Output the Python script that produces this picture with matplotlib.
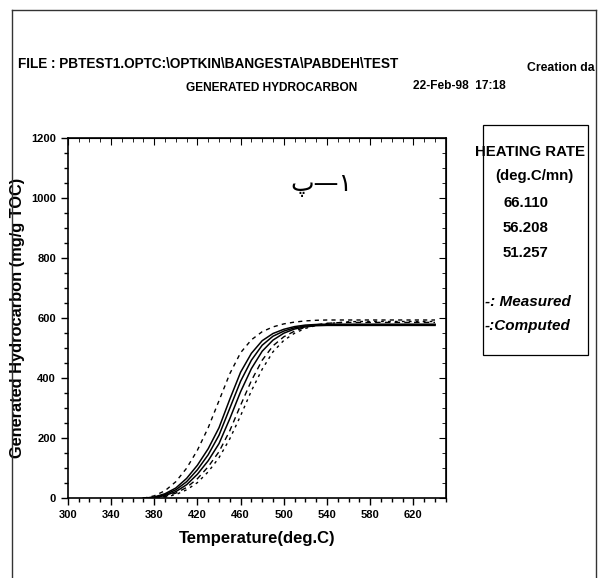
import matplotlib

matplotlib.use("Agg")
import matplotlib.pyplot as plt
from matplotlib.ticker import MultipleLocator

plt.rcParams["font.family"] = ["Liberation Sans", "DejaVu Sans"]

# temperature grid (deg.C)
temps = [370, 380, 390, 400, 410, 420, 430, 440, 450, 460, 470, 480, 490, 500,
         510, 520, 530, 540, 550, 560, 570, 580, 590, 600, 610, 620, 630, 640]

# computed curves (solid)
computed_a = [0, 3, 12, 28, 55, 95, 145, 210, 300, 390, 460, 510, 540, 557,
              568, 574, 577, 578, 578, 578, 578, 578, 578, 578, 578, 578, 578, 578]
computed_b = [0, 2, 9, 22, 45, 80, 125, 182, 265, 355, 432, 490, 527, 550,
              564, 571, 575, 576, 576, 576, 576, 576, 576, 576, 576, 576, 576, 576]
computed_c = [0, 4, 15, 34, 66, 110, 165, 235, 330, 420, 483, 525, 549, 563,
              572, 577, 579, 580, 580, 580, 580, 580, 580, 580, 580, 580, 580, 580]

# measured curves (dashed / dotted)
measured_a = [0, 8, 25, 55, 100, 160, 235, 325, 415, 485, 528, 555, 571, 581,
              587, 591, 593, 594, 594, 594, 594, 594, 594, 594, 594, 594, 594, 594]
measured_b = [0, 1, 6, 17, 36, 65, 105, 155, 225, 310, 392, 460, 508, 538,
              557, 570, 578, 583, 585, 586, 586, 586, 586, 586, 586, 586, 586, 586]
measured_c = [0, 1, 4, 12, 28, 52, 88, 135, 198, 275, 358, 430, 488, 526,
              550, 566, 576, 582, 585, 588, 589, 589, 589, 589, 589, 589, 589, 589]

heating_rates = ["66.110", "56.208", "51.257"]

fig = plt.figure(figsize=(6.0, 5.78), dpi=100)
ax = fig.add_axes([0.113, 0.138, 0.630, 0.623])

for ys in (computed_a, computed_b, computed_c):
    ax.plot(temps, ys, color="black", linewidth=1.1)
for ys, dash in ((measured_a, (0, (3, 3))), (measured_b, (0, (4, 3))), (measured_c, (0, (2, 3)))):
    ax.plot(temps, ys, color="black", linewidth=1.0, linestyle=dash)

ax.set_xlim(300, 650)
ax.set_ylim(0, 1200)
ax.xaxis.set_major_locator(MultipleLocator(40, offset=20))
ax.xaxis.set_minor_locator(MultipleLocator(10))
ax.yaxis.set_major_locator(MultipleLocator(200))
ax.yaxis.set_minor_locator(MultipleLocator(50))
ax.tick_params(axis="both", which="both", direction="out", top=False, right=False,
               labelsize=8, width=1.0)
ax.tick_params(which="major", length=5)
ax.tick_params(which="minor", length=3)
for lab in ax.get_xticklabels() + ax.get_yticklabels():
    lab.set_fontweight("bold")

# inward ticks on top / right spines
sec_x = ax.secondary_xaxis("top")
sec_x.xaxis.set_major_locator(MultipleLocator(40, offset=20))
sec_x.xaxis.set_minor_locator(MultipleLocator(10))
sec_x.tick_params(which="both", direction="in", labeltop=False)
sec_x.tick_params(which="major", length=5)
sec_x.tick_params(which="minor", length=3)
sec_y = ax.secondary_yaxis("right")
sec_y.yaxis.set_major_locator(MultipleLocator(200))
sec_y.yaxis.set_minor_locator(MultipleLocator(50))
sec_y.tick_params(which="both", direction="in", labelright=False)
sec_y.tick_params(which="major", length=5)
sec_y.tick_params(which="minor", length=3)

for sp in ax.spines.values():
    sp.set_linewidth(1.2)

ax.set_xlabel("Temperature(deg.C)", fontsize=12, fontweight="bold", labelpad=8)
ax.set_ylabel("Generated Hydrocarbon (mg/g TOC)", fontsize=11.8, fontweight="bold")
ax.yaxis.set_label_coords(-0.114, 0.5)

ax.text(0.67, 0.87, "پ—۱", transform=ax.transAxes, fontsize=18,
        family=["DejaVu Sans"], ha="center", va="center")

# header texts
fig.text(18 / 600, 1 - 64 / 578, "FILE : PBTEST1.OPTC:\\OPTKIN\\BANGESTA\\PABDEH\\TEST",
         fontsize=9.8, fontweight="bold", va="center", ha="left")
fig.text(272 / 600, 1 - 88 / 578, "GENERATED HYDROCARBON",
         fontsize=8.6, fontweight="bold", va="center", ha="center")
fig.text(527 / 600, 1 - 68 / 578, "Creation da",
         fontsize=8.8, fontweight="bold", va="center", ha="left")
fig.text(413 / 600, 1 - 86 / 578, "22-Feb-98  17:18",
         fontsize=8.6, fontweight="bold", va="center", ha="left")

# heating rate box
box = plt.Rectangle((483 / 600, 1 - 355 / 578), 105 / 600, 230 / 578,
                    transform=fig.transFigure, fill=False, edgecolor="black", linewidth=0.9)
fig.add_artist(box)
fig.text(475 / 600, 1 - 152 / 578, "HEATING RATE", fontsize=10.8, fontweight="bold",
         va="center", ha="left")
fig.text(534 / 600, 1 - 176 / 578, "(deg.C/mn)", fontsize=10.8, fontweight="bold",
         va="center", ha="center")
for i, rate in enumerate(heating_rates):
    fig.text(503 / 600, 1 - (203 + 25 * i) / 578, rate, fontsize=10.8, fontweight="bold",
             va="center", ha="left")
fig.text(485 / 600, 1 - 302 / 578, "-: Measured", fontsize=11, fontweight="bold",
         style="italic", va="center", ha="left")
fig.text(485 / 600, 1 - 326 / 578, "-:Computed", fontsize=11, fontweight="bold",
         style="italic", va="center", ha="left")

# outer page border
for xs, ys in (([12, 12], [10, 578]), ([12, 596], [10, 10]), ([596, 596], [10, 578])):
    fig.add_artist(plt.Line2D([x / 600 for x in xs], [1 - y / 578 for y in ys],
                              transform=fig.transFigure, color="#333333", linewidth=1.0))

fig.savefig("out.png", dpi=100)
